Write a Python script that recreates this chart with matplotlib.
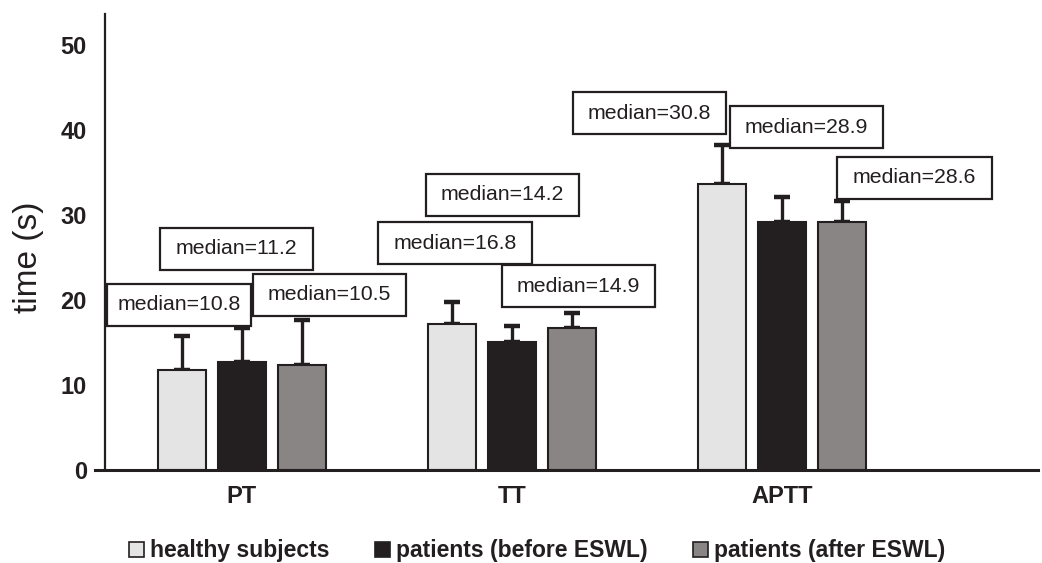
import numpy as np
import matplotlib
matplotlib.use('Agg')
import matplotlib.pyplot as plt
from matplotlib.patches import Rectangle, Patch

plt.rcParams['font.family'] = ['Liberation Sans', 'DejaVu Sans']

# data
tests = ['PT', 'TT', 'APTT']
series = ['healthy subjects', 'patients (before ESWL)', 'patients (after ESWL)']
healthy = [11.7, 17.2, 33.6]
before = [12.7, 15.1, 29.1]
after = [12.3, 16.7, 29.1]
healthy_err = [4.1, 2.5, 4.6]
before_err = [4.0, 1.8, 3.0]
after_err = [5.3, 1.8, 2.5]
medians = ['10.8', '11.2', '10.5', '16.8', '14.2', '14.9', '30.8', '28.9', '28.6']

# where the median boxes sit (centre x, centre y, width) in data units
box_pos = [(-0.233, 19.41, 0.533), (-0.020, 26.0, 0.567), (0.324, 20.59, 0.567),
           (0.789, 26.65, 0.567), (0.965, 32.35, 0.567), (1.246, 21.59, 0.567),
           (1.509, 41.94, 0.567), (2.091, 40.29, 0.567), (2.491, 34.35, 0.575)]
box_h = 4.94

colors = ['#e4e4e4', '#231f20', '#898584']
ink = '#231f20'

fig = plt.figure(figsize=(10.42, 5.63), dpi=100)
ax = fig.add_axes([95/1042, 1-470/563, 943/1042, 456/563])

x = np.arange(len(tests))
off = 0.222
w = 0.178
vals = [healthy, before, after]
errs = [healthy_err, before_err, after_err]
for i in range(3):
    xi = x + (i-1)*off
    ax.bar(xi, vals[i], w, color=colors[i], edgecolor=ink, linewidth=1.5, zorder=2)
    ax.errorbar(xi, vals[i], yerr=[np.zeros(3), errs[i]], fmt='none', ecolor=ink,
                elinewidth=2.4, capsize=5.5, capthick=3.2, zorder=1)

for m, (cx, cy, bw) in zip(medians, box_pos):
    ax.add_patch(Rectangle((cx-bw/2, cy-box_h/2), bw, box_h, facecolor='white',
                           edgecolor=ink, linewidth=1.6, zorder=3))
    ax.text(cx, cy, 'median='+m, ha='center', va='center', fontsize=15.3, color=ink, zorder=4)

ax.set_xlim(-0.544, 2.948)
ax.set_ylim(0, 53.6)
ax.spines['top'].set_visible(False)
ax.spines['right'].set_visible(False)
ax.spines['left'].set_position(('data', -0.507))
ax.spines['left'].set_linewidth(1.6)
ax.spines['bottom'].set_linewidth(2.2)
ax.spines['left'].set_color(ink)
ax.spines['bottom'].set_color(ink)

ax.set_xticks(x)
ax.set_xticklabels(tests, fontsize=17, fontweight='bold', color=ink)
ax.set_yticks([0, 10, 20, 30, 40, 50])
ax.set_yticklabels(['0', '10', '20', '30', '40', '50'], fontsize=17, fontweight='bold', color=ink)
ax.tick_params(axis='y', length=0, pad=13)
ax.tick_params(axis='x', length=0, pad=11)
ax.set_ylabel('time (s)', fontsize=24, color=ink)
ax.yaxis.set_label_coords(-0.054, 0.467)

handles = [Patch(facecolor=colors[i], edgecolor=ink, linewidth=1.2) for i in range(3)]
leg = fig.legend(handles, series, loc='center', bbox_to_anchor=(537/1042, 1-551/563),
                 ncol=3, frameon=False, handlelength=0.65, handleheight=0.65,
                 handletextpad=0.25, columnspacing=2.0, borderpad=0,
                 prop={'size': 16.5, 'weight': 'bold'})
for t in leg.get_texts():
    t.set_color(ink)

fig.savefig('out.png', dpi=100)
